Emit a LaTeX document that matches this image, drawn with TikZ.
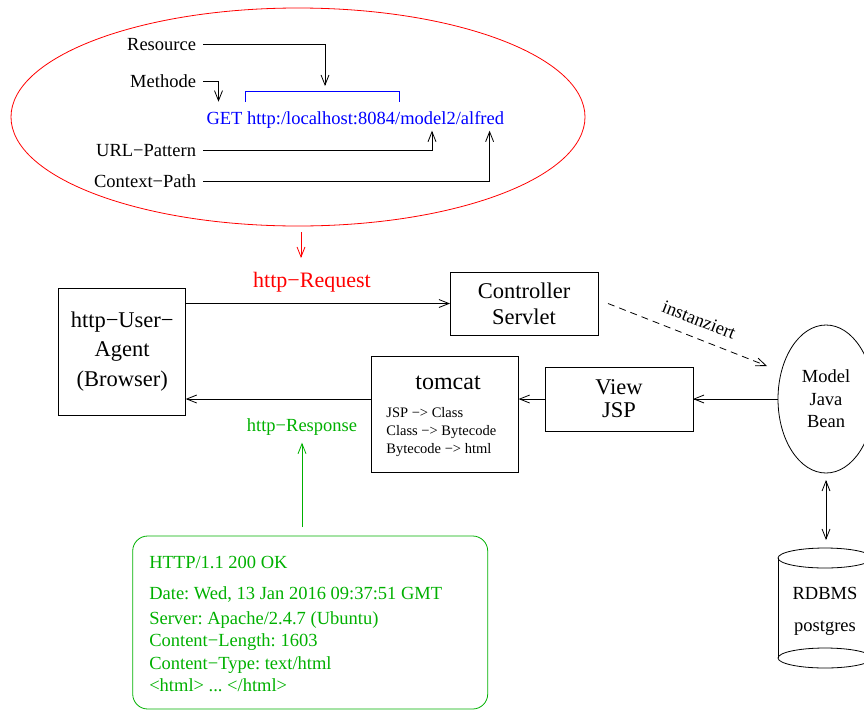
\documentclass[tikz,border=0pt]{standalone}
\usepackage{fontspec}
\setmainfont{Liberation Serif}
\usetikzlibrary{arrows.meta,shapes.geometric}
\definecolor{fgreen}{RGB}{0,176,0}
\definecolor{fblue}{RGB}{0,0,255}
\definecolor{fred}{RGB}{255,0,0}
\frenchspacing
\begin{document}
\begin{tikzpicture}[x=1pt,y=-1pt,
  every node/.style={inner sep=0pt,outer sep=0pt},
  lw/.style={line width=0.8pt},
  arr/.style={lw,-{Straight Barb[length=10pt,width=8pt]}},
  darr/.style={lw,{Straight Barb[length=10pt,width=8pt]}-{Straight Barb[length=10pt,width=8pt]}},
  nt/.style={font=\fontsize{18.5}{22.5}\selectfont,text height=15pt,text depth=3pt},
  st/.style={font=\fontsize{14.5}{18}\selectfont,text height=12pt,text depth=2pt},
  boxnode/.style={draw,lw,align=center},
]
\useasboundingbox (0,0) rectangle (864,710);

% request ellipse
\node[draw=fred,lw,ellipse,minimum width=574,minimum height=218] (req) at (298,117) {};
\node[nt,anchor=east] (res) at (196,44.3) {Resource};
\node[nt,anchor=east] (meth) at (196,81) {Methode};
\node[nt,anchor=east] (pat) at (196,150.7) {URL−Pattern};
\node[nt,anchor=east] (ctx) at (196,181.7) {Context−Path};
\node[nt,anchor=west,text=fblue] (url) at (206.5,118) {GET http:/localhost:8084/model2/alfred};
\coordinate (bl) at (245,101.7);
\coordinate (br) at (399,101.7);
\draw[fblue,lw] (bl) -- ++(0,-10) -| (br);
\coordinate (resin) at (325,86);
\coordinate (methin) at (218.5,101.7);
\coordinate (patin) at (432,130.7);
\coordinate (ctxin) at (489.6,130.7);
\draw[arr] ([xshift=7pt]res.east) -| (resin);
\draw[arr] ([xshift=7pt]meth.east) -| (methin);
\draw[arr] ([xshift=7pt]pat.east) -| (patin);
\draw[arr] ([xshift=7pt]ctx.east) -| (ctxin);

\draw[arr,fred] ([xshift=3pt,yshift=-6pt]req.south) -- ++(0,26);
\node[font=\fontsize{22}{26}\selectfont,text=fred] (reqlbl) at (312,282) {http−Request};

% boxes
\node[boxnode,minimum width=127,minimum height=127,font=\fontsize{22.5}{29.5}\selectfont] (ua) at (122.2,351.4) {http−User−\\Agent\\(Browser)};
\node[boxnode,minimum width=148,minimum height=63,font=\fontsize{22.5}{26}\selectfont] (ctrl) at (524,303.5) {Controller\\Servlet};
\node[draw,lw,minimum width=147.6,minimum height=116] (tomcat) at (444.8,414.7) {};
\node[font=\fontsize{24}{28}\selectfont] (tctitle) at (448,383) {tomcat};
\node[st,anchor=west] (t1) at (386.4,412.7) {JSP −> Class};
\node[st,anchor=west] (t2) at (386.4,430.7) {Class −> Bytecode};
\node[st,anchor=west] (t3) at (386.4,448.7) {Bytecode −> html};
\node[boxnode,minimum width=148,minimum height=64,font=\fontsize{22.5}{23}\selectfont] (view) at (619,399) {View\\JSP};
\node[draw,lw,ellipse,minimum width=96,minimum height=148,align=center,font=\fontsize{18.5}{22.5}\selectfont] (model) at (826,399) {Model\\Java\\Bean};

% database cylinder
\draw[lw] (778,558) -- (778,658);
\draw[lw] (872,558) -- (872,658);
\draw[lw] (825,558) ellipse [x radius=47,y radius=10];
\draw[lw] (825,658) ellipse [x radius=47,y radius=10];
\node[align=center,font=\fontsize{18.5}{32}\selectfont] (db) at (825,611) {RDBMS\\postgres};
\coordinate (dbtop) at (826,540);

% connectors
\draw[arr] (ua.east |- ctrl.west) -- (ctrl.west);
\draw[arr] (model.west) -- (view.east);
\draw[arr] (view.west) -- (view.west -| tomcat.east);
\draw[arr] (tomcat.west |- view.west) -- (ua.east |- view.west);
\coordinate (dashend) at (767,366);
\draw[arr,dash pattern=on 7pt off 5pt] ([xshift=10pt]ctrl.east) -- node[nt,sloped,above=9pt,pos=0.53] (inst) {instanziert} (dashend);
\draw[darr] ([yshift=-7pt]model.south) -- (dbtop);

% response
\node[nt,text=fgreen] (rlbl) at (302,425.7) {http−Response};
\node[draw=fgreen,lw,rounded corners=15,minimum width=355,minimum height=173] (hbox) at (310.2,622.5) {};
\coordinate (g1) at (hbox.north -| rlbl);
\draw[arr,fgreen] ([yshift=9pt]g1) -- ([yshift=-8pt]rlbl.south);
\node[nt,anchor=west,text=fgreen] (h1) at (149.3,562) {HTTP/1.1 200 OK};
\node[nt,anchor=west,text=fgreen] (h2) at (149.3,593) {Date: Wed, 13 Jan 2016 09:37:51 GMT};
\node[nt,anchor=west,text=fgreen] (h3) at (149.3,618) {Server: Apache/2.4.7 (Ubuntu)};
\node[nt,anchor=west,text=fgreen] (h4) at (149.3,640) {Content−Length: 1603};
\node[nt,anchor=west,text=fgreen] (h5) at (149.3,663) {Content−Type: text/html};
\node[nt,anchor=west,text=fgreen] (h6) at (149.3,685) {<html> ... </html>};
\end{tikzpicture}
\end{document}
